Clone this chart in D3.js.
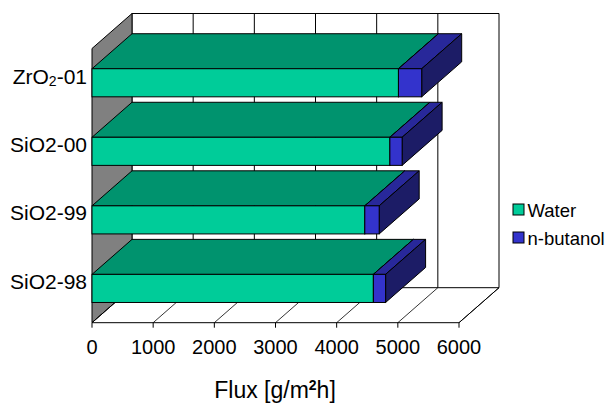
<!DOCTYPE html>
<html>
<head>
<meta charset="utf-8">
<script src="https://cdn.jsdelivr.net/npm/d3@7/dist/d3.min.js"></script>
<style>
  html, body { margin: 0; padding: 0; background: #fff; }
  svg { display: block; font-family: "Liberation Sans", Arial, sans-serif; }
</style>
</head>
<body>
<svg id="chart" width="606" height="409"></svg>
<script>
// ---- data ----
const categories = ["ZrO2-01", "SiO2-00", "SiO2-99", "SiO2-98"];
const seriesNames = ["Water", "n-butanol"];
const waterValues = [5010, 4870, 4460, 4600];
const butanolValues = [380, 200, 235, 200];
const xTicks = [0, 1000, 2000, 3000, 4000, 5000, 6000];

// ---- layout ----
const svg = d3.select("#chart");
const DX = 40, DY = -35;           // depth offset
const x = d3.scaleLinear().domain([0, 6000]).range([92, 459]);
const y = d3.scaleBand().domain(categories).range([48.5, 322.7])
  .paddingInner(0.59).paddingOuter(0.295);
const yTop = 48.5, yBot = 322.7;

const colors = {
  "Water": { front: "#00CC99", top: "#00936E", side: "#006B50" },
  "n-butanol": { front: "#3333CC", top: "#28289A", side: "#1C1C66" }
};

const poly = pts => "M" + pts.map(p => p.join(",")).join("L") + "Z";
const g = svg.append("g");

// back wall
g.append("path")
  .attr("d", poly([[x(0)+DX, yTop+DY], [x(6000)+DX, yTop+DY], [x(6000)+DX, yBot+DY], [x(0)+DX, yBot+DY]]))
  .attr("fill", "#fff").attr("stroke", "none");
// back wall gridlines
g.selectAll(".grid").data(xTicks).enter().append("line")
  .attr("x1", d => x(d)+DX).attr("x2", d => x(d)+DX)
  .attr("y1", yTop+DY).attr("y2", yBot+DY)
  .attr("stroke", "#000").attr("stroke-width", 1);
g.append("line").attr("x1", x(0)+DX).attr("x2", x(6000)+DX)
  .attr("y1", yTop+DY).attr("y2", yTop+DY).attr("stroke", "#000");

// left wall
g.append("path")
  .attr("d", poly([[x(0), yTop], [x(0)+DX, yTop+DY], [x(0)+DX, yBot+DY], [x(0), yBot]]))
  .attr("fill", "#808080").attr("stroke", "#000").attr("stroke-width", 1);

// floor
g.append("path")
  .attr("d", poly([[x(0), yBot], [x(6000), yBot], [x(6000)+DX, yBot+DY], [x(0)+DX, yBot+DY]]))
  .attr("fill", "#fff").attr("stroke", "#000").attr("stroke-width", 1);
g.selectAll(".floorline").data(xTicks).enter().append("line")
  .attr("x1", d => x(d)).attr("y1", yBot)
  .attr("x2", d => x(d)+DX).attr("y2", yBot+DY)
  .attr("stroke", "#000").attr("stroke-width", 0.8);
// ticks
g.selectAll(".tick").data(xTicks).enter().append("line")
  .attr("x1", d => x(d)).attr("x2", d => x(d))
  .attr("y1", yBot).attr("y2", yBot+5)
  .attr("stroke", "#000");

// bars
const stacks = categories.map((c, i) => {
  const segs = [];
  let acc = 0;
  [waterValues[i], butanolValues[i]].forEach((v, j) => {
    segs.push({ cat: c, name: seriesNames[j], x0: acc, x1: acc + v });
    acc += v;
  });
  return segs;
});
stacks.forEach(segs => {
  segs.forEach(s => {
    const c = colors[s.name];
    const y0 = y(s.cat), y1 = y(s.cat) + y.bandwidth();
    const xa = x(s.x0), xb = x(s.x1);
    const bg = g.append("g");
    // top face
    bg.append("path").attr("d", poly([[xa, y0], [xb, y0], [xb+DX, y0+DY], [xa+DX, y0+DY]]))
      .attr("fill", c.top).attr("stroke", "#000").attr("stroke-width", 1).attr("stroke-linejoin", "round");
    // side face
    bg.append("path").attr("d", poly([[xb, y0], [xb+DX, y0+DY], [xb+DX, y1+DY], [xb, y1]]))
      .attr("fill", c.side).attr("stroke", "#000").attr("stroke-width", 1).attr("stroke-linejoin", "round");
    // front face
    bg.append("rect").attr("x", xa).attr("y", y0).attr("width", xb - xa).attr("height", y1 - y0)
      .attr("fill", c.front).attr("stroke", "#000").attr("stroke-width", 1);
  });
});

// category labels
const catLabel = g.selectAll(".cat").data(categories).enter().append("text")
  .attr("x", 87).attr("y", d => y(d) + y.bandwidth()/2 - 7)
  .attr("text-anchor", "end").attr("dominant-baseline", "central")
  .attr("font-size", 21).attr("fill", "#000");
catLabel.each(function(d) {
  const t = d3.select(this);
  if (d === "ZrO2-01") {
    t.append("tspan").text("ZrO");
    t.append("tspan").attr("font-size", 14).attr("dy", 5).text("2");
    t.append("tspan").attr("dy", -5).text("-01");
  } else {
    t.text(d);
  }
});

// tick labels
g.selectAll(".tl").data(xTicks).enter().append("text")
  .attr("x", d => x(d)).attr("y", 354)
  .attr("text-anchor", "middle").attr("font-size", 20).attr("fill", "#000")
  .text(d => d);

// axis title
const title = g.append("text").attr("x", 275).attr("y", 398)
  .attr("text-anchor", "middle").attr("font-size", 23).attr("fill", "#000");
title.append("tspan").text("Flux [g/m");
title.append("tspan").attr("font-size", 14).attr("font-weight", "bold").attr("dy", -8).text("2");
title.append("tspan").attr("dy", 8).text("h]");

// legend
const legend = g.selectAll(".leg").data(seriesNames).enter().append("g")
  .attr("transform", (d, i) => `translate(513, ${204 + i * 28})`);
legend.append("rect").attr("width", 11).attr("height", 11)
  .attr("fill", d => colors[d].front).attr("stroke", "#000").attr("stroke-width", 1);
legend.append("text").attr("x", 14.5).attr("y", 6).attr("dominant-baseline", "central")
  .attr("font-size", 18.5).attr("fill", "#000").text(d => d);
</script>
</body>
</html>
